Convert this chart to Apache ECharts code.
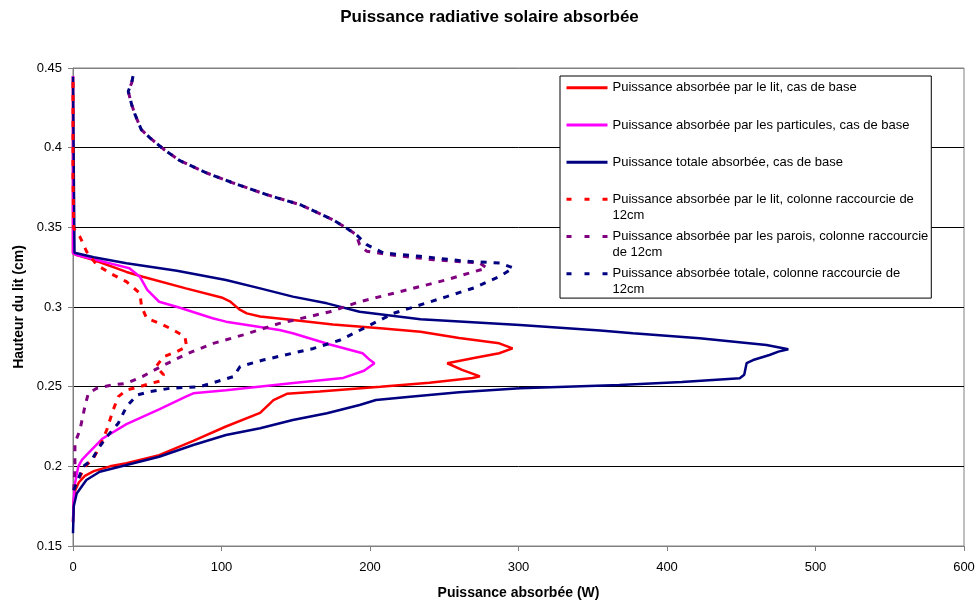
<!DOCTYPE html>
<html>
<head>
<meta charset="utf-8">
<script src="https://cdn.jsdelivr.net/npm/echarts@6/dist/echarts.min.js"></script>
<style>html,body{margin:0;padding:0;background:#fff}#chart{width:979px;height:604px}</style>
</head>
<body>
<div id="chart"></div>
<script>
// ---- texts ----
const titleText = 'Puissance radiative solaire absorbée';
const xAxisName = 'Puissance absorbée (W)';
const yAxisName = 'Hauteur du lit (cm)';
const seriesNames = [
  'Puissance absorbée par le lit, cas de base',
  'Puissance absorbée par les particules, cas de base',
  'Puissance totale absorbée, cas de base',
  'Puissance absorbée par le lit, colonne raccourcie de 12cm',
  'Puissance absorbée par les parois, colonne raccourcie de 12cm',
  'Puissance absorbée totale, colonne raccourcie de 12cm'
];
const legendLines = [
  ['Puissance absorbée par le lit, cas de base', ' '],
  ['Puissance absorbée par les particules, cas de base', ' '],
  ['Puissance totale absorbée, cas de base', ' '],
  ['Puissance absorbée par le lit, colonne raccourcie de', '12cm'],
  ['Puissance absorbée par les parois, colonne raccourcie', 'de 12cm'],
  ['Puissance absorbée totale, colonne raccourcie de', '12cm']
];
const xTickValues = [0, 100, 200, 300, 400, 500, 600];
const yTickValues = [0.15, 0.2, 0.25, 0.3, 0.35, 0.4, 0.45];

// ---- data: [puissance (W), hauteur (cm)] ----
const litBase = [[0,0.165],[0.5,0.178],[1.5,0.185],[4,0.19],[8,0.194],[14,0.197],[25,0.2],[36,0.202],[58,0.207],[81,0.216],[103,0.225],[126,0.2335],[135,0.2416],[144,0.2455],[166,0.247],[207,0.25],[240,0.2525],[269,0.2554],[274,0.2565],[262,0.2605],[252,0.2647],[270,0.268],[287,0.271],[296,0.274],[287,0.2772],[260,0.2805],[234,0.2845],[207,0.2866],[175,0.289],[148,0.2918],[126,0.294],[117,0.296],[112,0.2985],[106,0.3033],[100,0.306],[76,0.3117],[47,0.319],[36,0.322],[14,0.3295],[2.5,0.3326],[0,0.3338],[0,0.445]];
const particulesBase = [[0,0.165],[0.5,0.18],[1.3,0.189],[3.6,0.2],[6,0.204],[9,0.207],[20,0.2175],[36,0.2265],[58,0.2358],[76,0.2437],[81,0.2458],[103,0.2477],[150,0.2525],[182,0.2555],[196,0.26],[203,0.2647],[200,0.2667],[195,0.271],[173,0.2765],[148,0.2835],[139,0.2856],[103,0.2908],[94,0.2929],[72,0.2995],[58,0.3033],[50,0.3107],[45,0.319],[38,0.3243],[25,0.3274],[2.5,0.3326],[0,0.3338],[0,0.445]];
const totalBase = [[0,0.158],[0.5,0.175],[2.5,0.183],[9,0.1914],[18,0.1966],[36,0.2008],[58,0.206],[81,0.2134],[103,0.2197],[126,0.2239],[148,0.2291],[171,0.2333],[193,0.2385],[204,0.2416],[227,0.2437],[260,0.2465],[301,0.249],[368,0.251],[410,0.253],[449,0.2553],[452,0.2575],[453.6,0.2647],[458,0.2667],[469,0.2699],[475,0.272],[481.7,0.2735],[467,0.2762],[422,0.2804],[377,0.2835],[355,0.2852],[301,0.2887],[234,0.2923],[193,0.297],[171,0.3023],[148,0.3065],[126,0.3117],[103,0.317],[70,0.3228],[36,0.3274],[14,0.3312],[1,0.3341],[0,0.335],[0,0.4445]];
const litCourte = [[1,0.185],[4.7,0.1935],[8,0.1998],[13.7,0.205],[18,0.2124],[22.7,0.2228],[27,0.2353],[30.5,0.2437],[36,0.2479],[45,0.25],[52,0.252],[58.6,0.2535],[61,0.2575],[56,0.2626],[61,0.2688],[70,0.272],[76.5,0.2751],[75.4,0.2814],[67.5,0.2856],[58.6,0.2897],[49.6,0.2929],[46.2,0.3002],[45,0.3086],[36,0.3159],[25,0.3212],[16,0.3264],[9.2,0.3347],[4.7,0.344],[0.5,0.3494],[0.3,0.365],[0,0.38],[0,0.445]];
const paroisCourteBas = [[0.5,0.185],[1.3,0.2],[1.3,0.2146],[4.7,0.2229],[8,0.2375],[10.3,0.2458],[16,0.249],[26,0.251],[36,0.2521],[47,0.2565],[60,0.263],[76.5,0.2705],[94.5,0.2772],[114.7,0.2825],[139,0.2897],[173,0.297],[193,0.3033],[229,0.3117],[251.6,0.3171],[278.6,0.3245],[274,0.3276],[242.6,0.3297],[213.5,0.3328],[197.8,0.335],[193,0.3391],[190.8,0.3454]];
const totalCourteBas = [[0.5,0.185],[7,0.2],[12.6,0.204],[18,0.2124],[22.7,0.2186],[30.5,0.227],[36,0.2374],[43,0.2447],[52,0.2469],[65.3,0.249],[85.5,0.25],[108,0.2563],[112.5,0.2626],[128,0.2667],[162,0.274],[180,0.2793],[197.8,0.2876],[215.7,0.296],[251.6,0.3065],[270,0.312],[287.5,0.3193],[296.5,0.3245],[287.5,0.3276],[265,0.3287],[233.7,0.3318],[209,0.3339],[197.8,0.3391],[190.8,0.3454]];
const sommetCourte = [[184,0.3496],[175,0.3548],[153,0.3642],[130.4,0.3705],[108,0.3778],[90,0.3841],[72,0.3918],[60.8,0.3992],[52,0.406],[46,0.4113],[41.8,0.4207],[39.5,0.427],[37.2,0.4354],[39.5,0.4406],[40.6,0.4458]];

const seriesData = [
  litBase, particulesBase, totalBase, litCourte,
  paroisCourteBas.concat(sommetCourte),
  totalCourteBas.concat(sommetCourte)
];
const seriesColors = ['#ff0000', '#ff00ff', '#000080', '#ff0000', '#800080', '#000080'];
const seriesDashed = [false, false, false, true, true, true];

const FONT = 'Liberation Sans, Arial, sans-serif';
const chart = echarts.init(document.getElementById('chart'), null, {renderer: 'canvas'});

// legend text: an empty first line so that the real first line sits on the icon
const legendMap = {};
seriesNames.forEach((n, i) => { legendMap[n] = ' \n' + legendLines[i].join('\n'); });

chart.setOption({
  animation: false,
  backgroundColor: '#ffffff',
  title: {
    text: titleText, left: 'center', top: 4,
    textStyle: {fontFamily: FONT, fontSize: 17, fontWeight: 'bold', color: '#000'}
  },
  grid: {left: 73, right: 15, top: 68, bottom: 58, show: true, borderColor: '#808080', borderWidth: 1, backgroundColor: 'transparent', containLabel: false, outerBoundsMode: 'none'},
  legend: {
    orient: 'vertical', left: 560, top: 76,
    itemWidth: 41, itemHeight: 14, itemGap: -9.9,
    padding: [-11.8, 3, 0.8, 5],
    backgroundColor: '#ffffff', borderColor: '#000000', borderWidth: 1, borderRadius: 0,
    selectedMode: false,
    data: seriesNames.map((n, i) => seriesDashed[i]
      ? {name: n, lineStyle: {type: [5, 13], width: 3}}
      : {name: n, lineStyle: {width: 3}}),
    formatter: name => legendMap[name],
    itemStyle: {opacity: 0},
    textStyle: {fontFamily: FONT, fontSize: 13, color: '#000', lineHeight: 15.7}
  },
  xAxis: {
    type: 'value',
    min: xTickValues[0], max: xTickValues[xTickValues.length - 1],
    interval: xTickValues[1] - xTickValues[0],
    name: xAxisName, nameLocation: 'middle', nameGap: 40, nameMoveOverlap: false,
    nameTextStyle: {fontFamily: FONT, fontSize: 14, fontWeight: 'bold', color: '#000'},
    axisLine: {show: true, lineStyle: {color: '#808080', width: 1}},
    axisTick: {show: true, length: 5, lineStyle: {color: '#808080'}},
    axisLabel: {fontFamily: FONT, fontSize: 13, color: '#000', margin: 15, showMinLabel: true, showMaxLabel: true},
    splitLine: {show: false}
  },
  yAxis: {
    type: 'value',
    min: yTickValues[0], max: yTickValues[yTickValues.length - 1],
    interval: 0.05,
    name: yAxisName, nameLocation: 'middle', nameGap: 47, nameRotate: 90, nameMoveOverlap: false,
    nameTextStyle: {fontFamily: FONT, fontSize: 14, fontWeight: 'bold', color: '#000'},
    axisLine: {show: true, lineStyle: {color: '#808080', width: 1}},
    axisTick: {show: true, length: 5, lineStyle: {color: '#808080'}},
    axisLabel: {fontFamily: FONT, fontSize: 13, color: '#000', margin: 11, showMinLabel: true, showMaxLabel: true,
      formatter: v => String(parseFloat(v.toFixed(2)))},
    splitLine: {show: true, lineStyle: {color: ['#808080', '#000', '#000', '#000', '#000', '#000', '#808080'], width: 1}}
  },
  series: seriesNames.map((name, i) => ({
    name: name,
    type: 'line',
    data: seriesData[i],
    symbol: 'none',
    showSymbol: false,
    smooth: false,
    clip: true,
    z: 2 + i * 0.01,
    lineStyle: {
      color: seriesColors[i],
      width: seriesDashed[i] ? 3 : 2.5,
      type: seriesDashed[i] ? [6, 7] : 'solid'
    },
    itemStyle: {color: seriesColors[i]}
  }))
});
</script>
</body>
</html>
